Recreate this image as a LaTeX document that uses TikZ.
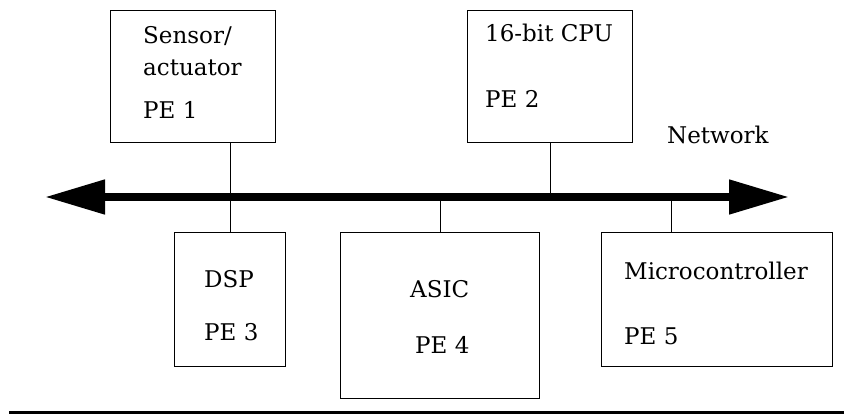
\documentclass[tikz,border=0pt]{standalone}
\usepackage{fontspec}
\setmainfont{DejaVu Serif}
\usetikzlibrary{arrows.meta}

\begin{document}
\begin{tikzpicture}[x=1pt, y=-1pt,
    pebox/.style={draw, line width=1.4pt, inner sep=0pt, anchor=north west},
    petext/.style={anchor=base west, inner sep=0pt, font=\fontsize{23}{28}\selectfont},
    tap/.style={line width=1pt},
    bus/.style={line width=8pt, {Triangle[length=60pt, width=33pt]}-{Triangle[length=60pt, width=33pt]}}]
    \useasboundingbox (0,0) rectangle (844,415);
    % boxes
    \node[pebox, minimum width=165pt, minimum height=132pt] (pe1) at (110,10) {};
    \node[pebox, minimum width=165pt, minimum height=132pt] (pe2) at (467,10) {};
    \node[pebox, minimum width=111pt, minimum height=134pt] (pe3) at (174,232) {};
    \node[pebox, minimum width=199pt, minimum height=166pt] (pe4) at (340,232) {};
    \node[pebox, minimum width=231pt, minimum height=134pt] (pe5) at (601,232) {};
    % texts
    \node[petext] (t1a) at (143,43) {Sensor/};
    \node[petext] (t1b) at (143,75) {actuator};
    \node[petext] (t1c) at (143,118) {PE 1};
    \node[petext] (t2a) at (485,41) {16-bit CPU};
    \node[petext] (t2b) at (485,107) {PE 2};
    \node[petext] (t3a) at (204,287) {DSP};
    \node[petext] (t3b) at (204,340) {PE 3};
    \node[petext] (t4a) at (410,297) {ASIC};
    \node[petext] (t4b) at (415,353) {PE 4};
    \node[petext] (t5a) at (624,279) {Microcontroller};
    \node[petext] (t5b) at (624,344) {PE 5};
    \node[petext] (net) at (667,143) {Network};
    % network
    \coordinate (busL) at (45,197);
    \coordinate (busR) at (789,197);
    \coordinate (tap5) at (671,197);
    \draw[tap] (pe3.north) -- (pe3.north |- pe1.south);
    \draw[tap] (pe2.south) -- (pe2.south |- busL);
    \draw[tap] (pe4.north) -- (pe4.north |- busL);
    \draw[tap] (tap5) -- (tap5 |- pe5.north);
    \draw[bus] (busL) -- (busR);
    \coordinate (baseL) at (9,412);
    \coordinate (baseR) at (844,412);
    \draw[line width=3pt] (baseL) -- (baseR);
\end{tikzpicture}
\end{document}
